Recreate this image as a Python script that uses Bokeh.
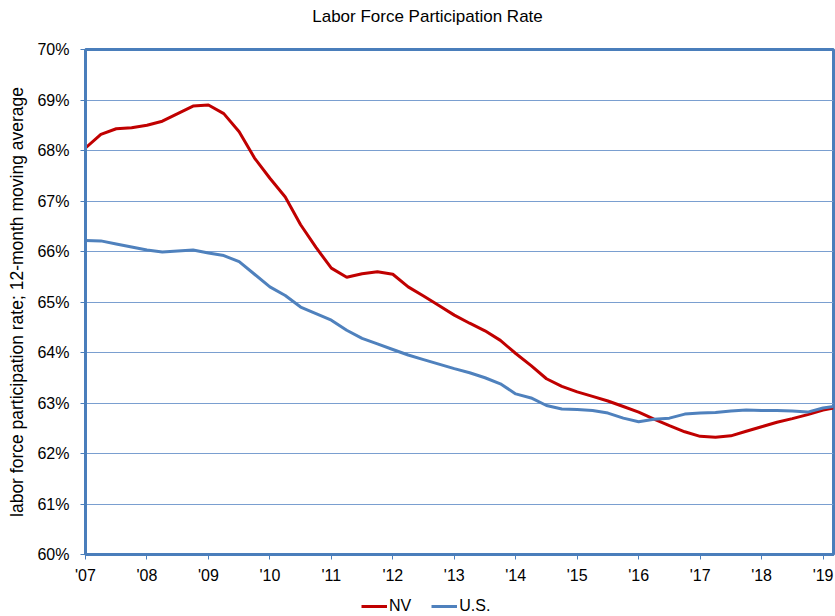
from bokeh.plotting import figure
from bokeh.layouts import column
from bokeh.models import (ColumnDataSource, FixedTicker, Label, Legend, LegendItem,
                          NumeralTickFormatter, Range1d)
from bokeh.embed import file_html
from bokeh.resources import INLINE

# quarterly sample dates (decimal years), last point Feb-2019
dates = [2007.0, 2007.25, 2007.5, 2007.75, 2008.0, 2008.25, 2008.5, 2008.75,
         2009.0, 2009.25, 2009.5, 2009.75, 2010.0, 2010.25, 2010.5, 2010.75,
         2011.0, 2011.25, 2011.5, 2011.75, 2012.0, 2012.25, 2012.5, 2012.75,
         2013.0, 2013.25, 2013.5, 2013.75, 2014.0, 2014.25, 2014.5, 2014.75,
         2015.0, 2015.25, 2015.5, 2015.75, 2016.0, 2016.25, 2016.5, 2016.75,
         2017.0, 2017.25, 2017.5, 2017.75, 2018.0, 2018.25, 2018.5, 2018.75,
         2019.0, 2019.17]

nv = [68.05, 68.32, 68.43, 68.45, 68.50, 68.58, 68.73, 68.88,
      68.90, 68.73, 68.37, 67.85, 67.45, 67.08, 66.53, 66.08,
      65.67, 65.49, 65.56, 65.60, 65.55, 65.30, 65.12, 64.93,
      64.74, 64.58, 64.43, 64.24, 63.98, 63.74, 63.48, 63.33,
      63.22, 63.13, 63.04, 62.93, 62.82, 62.68, 62.55, 62.43,
      62.34, 62.32, 62.35, 62.44, 62.53, 62.62, 62.69, 62.77,
      62.86, 62.90]

us = [66.22, 66.21, 66.15, 66.09, 66.03, 65.99, 66.01, 66.03,
      65.97, 65.92, 65.80, 65.55, 65.30, 65.13, 64.90, 64.77,
      64.64, 64.44, 64.28, 64.17, 64.06, 63.95, 63.86, 63.77,
      63.68, 63.60, 63.50, 63.38, 63.18, 63.10, 62.95, 62.88,
      62.87, 62.85, 62.80, 62.70, 62.63, 62.68, 62.70, 62.78,
      62.80, 62.81, 62.84, 62.86, 62.85, 62.85, 62.84, 62.82,
      62.90, 62.93]

year_ticks = [2007, 2008, 2009, 2010, 2011, 2012, 2013, 2014, 2015, 2016, 2017, 2018, 2019]
year_labels = ["'07", "'08", "'09", "'10", "'11", "'12", "'13", "'14", "'15", "'16", "'17", "'18", "'19"]
pct_ticks = [60, 61, 62, 63, 64, 65, 66, 67, 68, 69, 70]
series_names = ["NV", "U.S."]
title_text = "Labor Force Participation Rate"

FONT = "Liberation Sans"
BLUE_FRAME = "#4A7EBB"
GRID = "#7A9FD0"
RED = "#C00000"
BLUE = "#4F81BD"

src = ColumnDataSource(dict(date=dates, nv=[v / 100 for v in nv], us=[v / 100 for v in us]))

# ---- title strip (pixel-mapped ranges) ----
tp = figure(width=835, height=36, output_backend="svg", toolbar_location=None,
            x_range=Range1d(85, 833), y_range=Range1d(36, 0),
            min_border_left=85, min_border_right=2, min_border_top=0, min_border_bottom=0)
tp.axis.visible = False
tp.grid.visible = False
tp.outline_line_color = None
tp.add_layout(Label(x=427, y=16, text=title_text, text_align="center", text_baseline="middle",
                    text_font=FONT, text_font_size="17px", text_color="black"))

# ---- main chart ----
p = figure(width=835, height=552, output_backend="svg", toolbar_location=None,
           x_range=Range1d(2007, 2019.17), y_range=Range1d(0.60, 0.70),
           min_border_left=85, min_border_right=2, min_border_top=13, min_border_bottom=34)

p.line("date", "nv", source=src, line_color=RED, line_width=3)
p.line("date", "us", source=src, line_color=BLUE, line_width=3)

p.xaxis.ticker = FixedTicker(ticks=year_ticks)
p.xaxis.major_label_overrides = {t: l for t, l in zip(year_ticks, year_labels)}
p.yaxis.ticker = FixedTicker(ticks=[t / 100 for t in pct_ticks])
p.yaxis.formatter = NumeralTickFormatter(format="0%")
p.yaxis.axis_label = "labor force participation rate; 12-month moving average"

for ax in (p.xaxis[0], p.yaxis[0]):
    ax.axis_line_color = BLUE_FRAME
    ax.axis_line_width = 3
    ax.major_tick_line_color = BLUE_FRAME
    ax.major_tick_line_width = 1
    ax.major_tick_out = 5
    ax.major_tick_in = 0
    ax.minor_tick_line_color = None
    ax.major_label_text_font = FONT
    ax.major_label_text_font_size = "16px"
    ax.major_label_text_color = "black"
    ax.axis_label_text_font = FONT
    ax.axis_label_text_font_size = "17.5px"
    ax.axis_label_text_font_style = "normal"
    ax.axis_label_text_color = "black"

p.yaxis.major_label_standoff = 11
p.yaxis.axis_label_standoff = 7
p.xaxis.major_label_standoff = 7

p.xgrid.grid_line_color = None
p.ygrid.grid_line_color = GRID
p.ygrid.grid_line_width = 1

p.outline_line_color = BLUE_FRAME
p.outline_line_width = 3
p.outline_line_alpha = 1

# ---- legend strip (its lines reuse the data, outside this strip's ranges) ----
lg = figure(width=835, height=28, output_backend="svg", toolbar_location=None,
            x_range=Range1d(0, 1), y_range=Range1d(0, 1),
            min_border_left=85, min_border_right=2, min_border_top=0, min_border_bottom=0)
lg.axis.visible = False
lg.grid.visible = False
lg.outline_line_color = None
l_nv = lg.line("date", "nv", source=src, line_color=RED, line_width=3)
l_us = lg.line("date", "us", source=src, line_color=BLUE, line_width=3)
legend = Legend(items=[LegendItem(label=series_names[0], renderers=[l_nv]),
                       LegendItem(label=series_names[1], renderers=[l_us])],
                orientation="horizontal", location=(276, 0),
                label_text_font=FONT, label_text_font_size="16px", label_text_color="black",
                label_standoff=2, glyph_width=26, spacing=20,
                border_line_color=None, background_fill_alpha=0,
                margin=0, padding=2)
lg.add_layout(legend, "center")

layout = column(tp, p, lg, spacing=0)
open("out.html", "w").write(file_html(layout, INLINE))
